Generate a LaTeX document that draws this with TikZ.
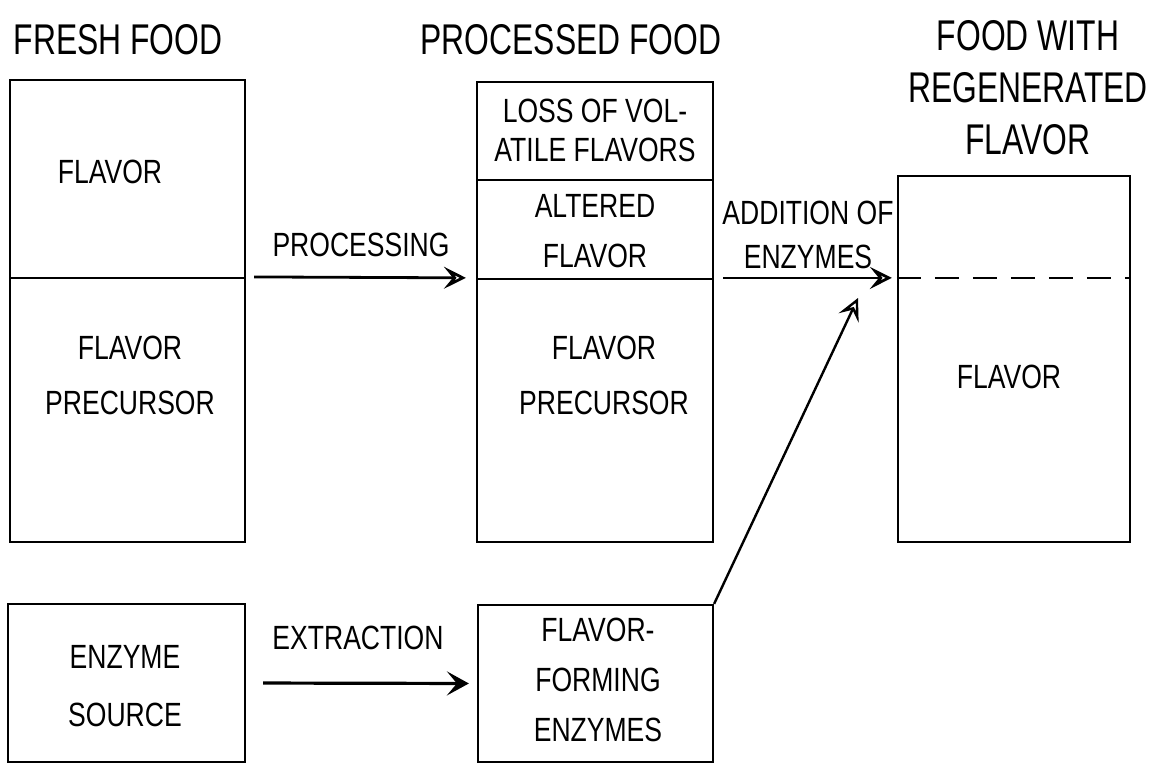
\documentclass[tikz,border=0pt]{standalone}
\usepackage{fontspec}
\setmainfont[FakeStretch=0.79]{Liberation Sans}
\newfontfamily\ttlfam[FakeStretch=0.74]{Liberation Sans}
\usepackage{tikz}
\usetikzlibrary{arrows.meta}

\begin{document}
\begin{tikzpicture}[x=0.5pt,y=-0.5pt,line width=1.1pt,
  frame/.style={draw,inner sep=0pt},
  lbl/.style={font=\fontsize{16.8}{#1}\selectfont,align=center,inner sep=0pt},
  lbl/.default=27pt,
  ttl/.style={font=\ttlfam\fontsize{21.5}{26}\selectfont,align=center,inner sep=0pt},
  arr/.style={-{Stealth[open,length=11pt,width=11pt,inset=4.5pt]},line width=1.4pt},
  barr/.style={-{Stealth[length=11pt,width=12pt,inset=5pt]},line width=1.6pt}]
  \useasboundingbox (0,0) rectangle (1158,765);
  % titles
  \node[ttl] (tfresh) at (118,40) {FRESH FOOD};
  \node[ttl] (tproc) at (571,40) {PROCESSED FOOD};
  \node[ttl] (tregen) at (1028,88) {FOOD WITH\\REGENERATED\\FLAVOR};
  % boxes
  \node[frame,minimum width=117.5pt,minimum height=99pt] (freshtop) at (127.5,179) {};
  \node[frame,minimum width=117.5pt,minimum height=132pt] (freshbot) at (127.5,410) {};
  \node[frame,minimum width=118pt,minimum height=49pt] (proctop) at (595,131) {};
  \node[frame,minimum width=118pt,minimum height=49.5pt] (procmid) at (595,229.5) {};
  \node[frame,minimum width=118pt,minimum height=131.5pt] (procbot) at (595,410.5) {};
  \node[frame,minimum width=116pt,minimum height=183pt] (regen) at (1014,359) {};
  \node[frame,minimum width=118.5pt,minimum height=79pt] (esrc) at (126.5,683) {};
  \node[frame,minimum width=117.5pt,minimum height=78.5pt] (fenz) at (595.5,683.5) {};
  % texts in boxes
  \node[lbl] (l1) at (110,172) {FLAVOR};
  \node[lbl=27.5pt] (l2) at (130,375) {FLAVOR\\PRECURSOR};
  \node[lbl=19.5pt] (l3) at (595,130) {LOSS OF VOL-\\ATILE FLAVORS};
  \node[lbl=25pt] (l4) at (595,231) {ALTERED\\FLAVOR};
  \node[lbl=27.5pt] (l5) at (604,375) {FLAVOR\\PRECURSOR};
  \node[lbl] (l6) at (1009,377) {FLAVOR};
  \node[lbl=29pt] (l7) at (125,686) {ENZYME\\SOURCE};
  \node[lbl=25pt] (l8) at (598,680) {FLAVOR-\\FORMING\\ENZYMES};
  % arrow labels
  \node[lbl] (lproc) at (361,245) {PROCESSING};
  \node[lbl=22pt] (ladd) at (808,235) {ADDITION OF\\ENZYMES};
  \node[lbl] (lext) at (358,638) {EXTRACTION};
  % connectors
  \coordinate (dtip) at (858,298);
  \draw[dashed,dash pattern=on 12pt off 7pt] (regen.west |- procbot.north) -- (regen.east |- procbot.north);
  \draw[arr,shorten <=4pt,shorten >=5pt] (freshbot.north east) -- (procbot.north west);
  \draw[arr,shorten <=4.5pt,shorten >=2.5pt] (procbot.north east) -- (regen.west |- procbot.north);
  \draw[barr,shorten <=8.5pt,shorten >=4pt] (esrc.east) -- (fenz.west);
  \draw[arr,line width=1.2pt] (fenz.north east) -- (dtip);
\end{tikzpicture}
\end{document}
